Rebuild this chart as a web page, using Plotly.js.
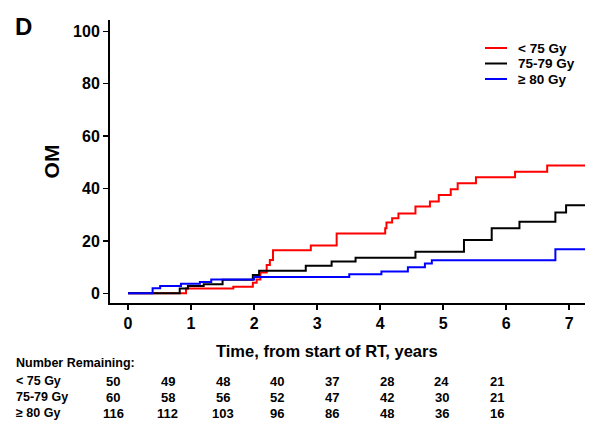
<!DOCTYPE html>
<html>
<head>
<meta charset="utf-8">
<script src="https://cdn.plot.ly/plotly-3.0.1.min.js"></script>
<style>html,body{margin:0;padding:0;background:#fff;}#chart{width:600px;height:429px;}</style>
</head>
<body>
<div id="chart"></div>
<script>
// ---- data ----
const seriesNames = ["< 75 Gy", "75-79 Gy", "\u2265 80 Gy"];
const timeLow = [0, 0.92, 1.67, 1.98, 2.04, 2.10, 2.20, 2.25, 2.30, 2.90, 3.31, 4.08, 4.10, 4.19, 4.29, 4.56, 4.79, 4.93, 5.12, 5.23, 5.52, 6.14, 6.65, 7.25];
const omLow   = [0, 1.8, 2.5, 4.0, 5.3, 7.9, 10.8, 12.7, 16.4, 18.2, 22.8, 24.8, 27.0, 28.6, 30.5, 33.1, 35.0, 37.5, 39.7, 42.0, 44.3, 46.4, 48.8, 48.8];
const timeMid = [0, 0.82, 0.95, 1.20, 1.50, 1.98, 2.08, 2.82, 3.23, 3.61, 4.56, 5.33, 5.77, 6.21, 6.78, 6.95, 7.25];
const omMid   = [0, 1.8, 2.8, 3.5, 5.2, 7.0, 8.6, 10.5, 12.1, 13.6, 15.9, 20.3, 24.8, 27.3, 30.8, 33.6, 33.6];
const timeHigh = [0, 0.39, 0.51, 0.84, 1.14, 1.32, 2.00, 3.51, 4.02, 4.44, 4.71, 4.82, 6.78, 7.25];
const omHigh   = [0, 1.9, 2.8, 3.6, 4.3, 5.3, 6.2, 7.3, 8.3, 9.9, 11.4, 12.6, 16.8, 16.8];
const xTicks = [0, 1, 2, 3, 4, 5, 6, 7];
const yTicks = [0, 20, 40, 60, 80, 100];
const tableTitle = "Number Remaining:";
const remainLow  = [50, 49, 48, 40, 37, 28, 24, 21];
const remainMid  = [60, 58, 56, 52, 47, 42, 30, 21];
const remainHigh = [116, 112, 103, 96, 86, 48, 36, 16];
const xTitle = "Time, from start of RT, years";
const yTitle = "OM";
const panelLabel = "D";

// ---- styling / layout ----
const colors = ["#ff0000", "#000000", "#0000ff"];
const FONT = "Liberation Sans, Arial, sans-serif";
const W = 600, H = 429;
const M = {l: 110, r: 15, t: 20, b: 126};
const plotW = W - M.l - M.r, plotH = H - M.t - M.b;
const px2x = p => (p - M.l) / plotW;
const py2y = p => (H - M.b - p) / plotH;

const times = [timeLow, timeMid, timeHigh];
const oms = [omLow, omMid, omHigh];
const traces = seriesNames.map((n, i) => ({
  x: times[i], y: oms[i], name: n, type: "scatter", mode: "lines",
  line: {shape: "hv", color: colors[i], width: 2}, showlegend: false
}));

const ann = [];
const shapes = [];
ann.push({text: panelLabel, xref: "paper", yref: "paper", x: px2x(13), y: py2y(26), xanchor: "left", yanchor: "middle",
  showarrow: false, font: {family: FONT, size: 24, weight: "bold", color: "#000"}});
ann.push({text: xTitle, xref: "paper", yref: "paper", x: px2x(327), y: py2y(351), xanchor: "center", yanchor: "middle",
  showarrow: false, font: {family: FONT, size: 16.5, weight: "bold", color: "#000"}});
ann.push({text: tableTitle, xref: "paper", yref: "paper", x: px2x(14), y: py2y(363), xanchor: "left", yanchor: "middle",
  showarrow: false, font: {family: FONT, size: 12.5, weight: "bold", color: "#000"}});
const rows = [remainLow, remainMid, remainHigh];
const rowY = [381, 397, 413];
const colX0 = 113, colStep = 54.8;
rows.forEach((r, i) => {
  ann.push({text: seriesNames[i], xref: "paper", yref: "paper", x: px2x(14), y: py2y(rowY[i]), xanchor: "left", yanchor: "middle",
    showarrow: false, font: {family: FONT, size: 12.5, weight: "bold", color: "#000"}});
  r.forEach((v, j) => {
    ann.push({text: String(v), xref: "paper", yref: "paper", x: px2x(colX0 + j * colStep), y: py2y(rowY[i]), xanchor: "center", yanchor: "middle",
      showarrow: false, font: {family: FONT, size: 13, weight: "bold", color: "#000"}});
  });
});

// custom legend
const legY = [48, 63.5, 79];
seriesNames.forEach((n, i) => {
  shapes.push({type: "line", xref: "paper", yref: "paper", x0: px2x(485), x1: px2x(507), y0: py2y(legY[i]), y1: py2y(legY[i]),
    line: {color: colors[i], width: 2}});
  ann.push({text: n, xref: "paper", yref: "paper", x: px2x(516), y: py2y(legY[i]), xanchor: "left", yanchor: "middle",
    showarrow: false, font: {family: FONT, size: 13.5, weight: "bold", color: "#000"}});
});

const axisCommon = {
  showline: true, linewidth: 2, linecolor: "#000", ticks: "outside", ticklen: 5, tickwidth: 1.5, tickcolor: "#000",
  showgrid: false, zeroline: false, tickfont: {family: FONT, size: 16, weight: "bold", color: "#000"}
};

const layout = {
  width: W, height: H, margin: M, paper_bgcolor: "#fff", plot_bgcolor: "#fff",
  showlegend: false,
  xaxis: Object.assign({}, axisCommon, {range: [-0.286, 7.25], tickmode: "array", tickvals: xTicks, ticktext: xTicks.map(String)}),
  yaxis: Object.assign({}, axisCommon, {range: [-3.7, 104.3], tickmode: "array", tickvals: yTicks, ticktext: yTicks.map(String),
    title: {text: yTitle, standoff: 8, font: {family: FONT, size: 21, weight: "bold", color: "#000"}}}),
  annotations: ann,
  shapes: shapes
};

Plotly.newPlot("chart", traces, layout, {displayModeBar: false, staticPlot: true});
</script>
</body>
</html>
